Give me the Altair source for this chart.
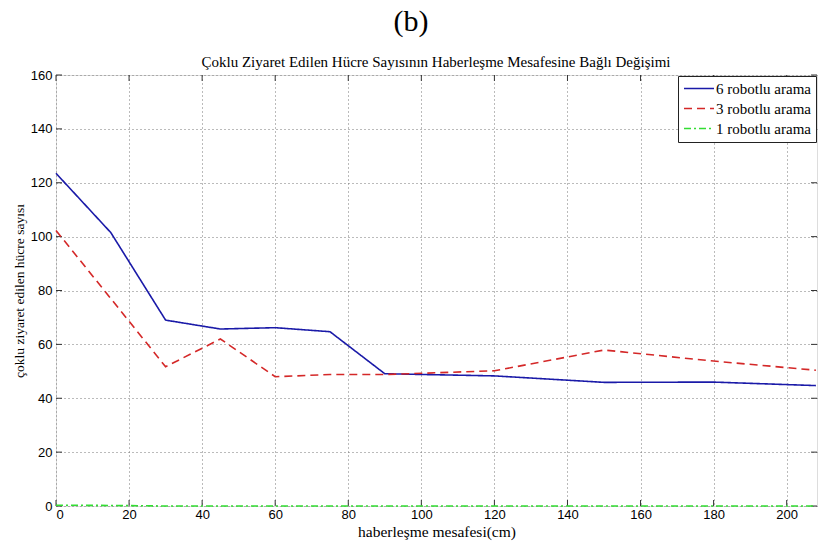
import altair as alt
import pandas as pd

# ---- data ----
x_cm = [0, 15, 30, 45, 60, 75, 90, 120, 150, 180, 208]
robot6 = [123.5, 101.5, 69.0, 65.7, 66.2, 64.7, 49.1, 48.3, 45.9, 46.0, 44.7]
robot3 = [102.3, 77.0, 51.7, 62.0, 48.0, 48.8, 48.8, 50.2, 57.9, 53.8, 50.4]
robot1 = [0.3, 0.2, 0, 0, 0, 0, 0, 0, 0, 0, 0]
series_names = ["6 robotlu arama", "3 robotlu arama", "1 robotlu arama"]
series_colors = ["#1a1aa8", "#d42828", "#33dd33"]
series_dash = [[1, 0], [8, 5], [7, 3, 2, 3]]

x_ticks = [0, 20, 40, 60, 80, 100, 120, 140, 160, 180, 200]
y_ticks = [0, 20, 40, 60, 80, 100, 120, 140, 160]
panel_label = ["(b)"]
title_text = ["Çoklu Ziyaret Edilen Hücre Sayısının Haberleşme Mesafesine Bağlı Değişimi"]
x_title = "haberleşme mesafesi(cm)"
y_title = "çoklu ziyaret edilen hücre sayısı"

W, H = 761, 431
XMAX = 208.3

rows = []
for name, vals in zip(series_names, [robot6, robot3, robot1]):
    for xv, yv in zip(x_cm, vals):
        rows.append({"x": xv, "y": yv, "series": name})
df = pd.DataFrame(rows)

xscale = alt.Scale(domain=[0, XMAX], nice=False, zero=False)
yscale = alt.Scale(domain=[0, 160], nice=False)

lines = alt.Chart(df).mark_line(strokeWidth=1.6).encode(
    x=alt.X("x:Q", scale=xscale,
            axis=alt.Axis(values=x_ticks, title=x_title, grid=True, gridDash=[1, 3],
                          gridColor="#777777", gridOpacity=1, ticks=False, domain=False,
                          labelFont="Liberation Sans", labelFontSize=13, labelColor="black",
                          labelPadding=2, titleFont="Liberation Serif", titleFontSize=15.5,
                          titleFontWeight="normal", titleColor="black", titlePadding=3)),
    y=alt.Y("y:Q", scale=yscale,
            axis=alt.Axis(values=y_ticks, title=y_title, grid=True, gridDash=[1, 3],
                          gridColor="#777777", gridOpacity=1, ticks=False, domain=False,
                          labelFont="Liberation Sans", labelFontSize=13, labelColor="black",
                          labelPadding=4, titleFont="Liberation Serif", titleFontSize=13.5,
                          titleFontWeight="normal", titleColor="black", titlePadding=4)),
    color=alt.Color("series:N", scale=alt.Scale(domain=series_names, range=series_colors),
                    sort=series_names,
                    legend=alt.Legend(title=None, orient="none", legendX=622, legendY=1,
                                      symbolType="stroke", symbolSize=900, symbolStrokeWidth=1.6,
                                      labelFont="Liberation Serif", labelFontSize=15,
                                      labelColor="black", labelOffset=1, rowPadding=4,
                                      clipHeight=15,
                                      strokeColor="#222222", fillColor="white", padding=5,
                                      cornerRadius=0)),
    strokeDash=alt.StrokeDash("series:N", scale=alt.Scale(domain=series_names, range=series_dash),
                              sort=series_names, legend=None),
    order=alt.Order("x:Q"),
)

xt = pd.DataFrame({"t": x_ticks})
yt = pd.DataFrame({"t": y_ticks})
tick_bottom = alt.Chart(xt).mark_rule(color="#333333").encode(
    x=alt.X("t:Q", scale=xscale), y=alt.value(H), y2=alt.value(H - 6))
tick_top = alt.Chart(xt).mark_rule(color="#333333").encode(
    x=alt.X("t:Q", scale=xscale), y=alt.value(0), y2=alt.value(6))
tick_left = alt.Chart(yt).mark_rule(color="#333333").encode(
    y=alt.Y("t:Q", scale=yscale), x=alt.value(0), x2=alt.value(6))
tick_right = alt.Chart(yt).mark_rule(color="#333333").encode(
    y=alt.Y("t:Q", scale=yscale), x=alt.value(W), x2=alt.value(W - 6))

label_b = alt.Chart(pd.DataFrame({"lab": panel_label})).mark_text(
    font="Liberation Serif", fontSize=30, color="black", baseline="middle", align="center"
).encode(text="lab:N", x=alt.value(355), y=alt.value(-53))

label_title = alt.Chart(pd.DataFrame({"lab": title_text})).mark_text(
    font="Liberation Serif", fontSize=15, color="black", baseline="middle", align="center"
).encode(text="lab:N", x=alt.value(380), y=alt.value(-13))

chart = alt.layer(tick_bottom, tick_top, tick_left, tick_right, lines, label_b, label_title).properties(
    width=W, height=H,
    autosize=alt.AutoSizeParams(type="none"),
    padding={"left": 56, "top": 75, "right": 1, "bottom": 40},
).configure_view(stroke="#333333", strokeWidth=1).configure(background="white")

chart.save("out.html", embed_options={"renderer": "svg", "actions": False})
